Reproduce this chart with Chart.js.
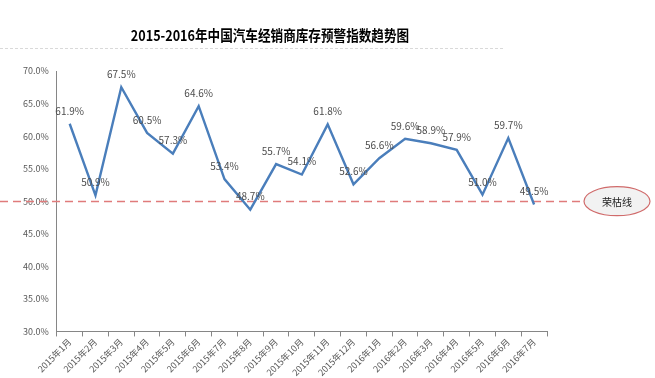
<!DOCTYPE html>
<html>
<head>
<meta charset="utf-8">
<script src="https://cdn.jsdelivr.net/npm/chart.js@4.4.0/dist/chart.umd.min.js"></script>
<style>
  html, body { margin: 0; padding: 0; background: #fff; }
  #wrap { width: 655px; height: 378px; position: relative; }
</style>
</head>
<body>
<div id="wrap"><canvas id="chart" width="655" height="378"></canvas></div>
<script>
"use strict";

var chartTitle = "2015-2016年中国汽车经销商库存预警指数趋势图";
var months = [
  "2015年1月", "2015年2月", "2015年3月", "2015年4月", "2015年5月", "2015年6月",
  "2015年7月", "2015年8月", "2015年9月", "2015年10月", "2015年11月", "2015年12月",
  "2016年1月", "2016年2月", "2016年3月", "2016年4月", "2016年5月", "2016年6月", "2016年7月"
];
var warningIndex = [
  61.9, 50.9, 67.5, 60.5, 57.3, 64.6, 53.4, 48.7, 55.7, 54.1,
  61.8, 52.6, 56.6, 59.6, 58.9, 57.9, 51.0, 59.7, 49.5
];
var boomBustValue = 50;
var boomBustLabel = "荣枯线";
var yMin = 30, yMax = 70, yStep = 5;

var fontFamily = "'Noto Sans CJK SC', 'Liberation Sans', sans-serif";
var tickColor = "#595959";
var axisColor = "#868686";

// title, dashed separator, boom-bust line with its ellipse label, and point labels
var decorations = {
  id: "decorations",
  beforeDatasetsDraw: function(chart) {
    var ctx = chart.ctx;
    var area = chart.chartArea;
    var y = chart.scales.y.getPixelForValue(boomBustValue);

    ctx.save();
    ctx.strokeStyle = "#d9d9d9";
    ctx.lineWidth = 1;
    ctx.setLineDash([3, 2]);
    ctx.beginPath();
    ctx.moveTo(0, 48.5);
    ctx.lineTo(505, 48.5);
    ctx.stroke();

    ctx.strokeStyle = "#e07b7b";
    ctx.lineWidth = 1.3;
    ctx.setLineDash([8, 5]);
    ctx.beginPath();
    ctx.moveTo(0, Math.round(y) + 0.5);
    ctx.lineTo(area.right + 37, Math.round(y) + 0.5);
    ctx.stroke();
    ctx.restore();
  },
  afterDatasetsDraw: function(chart) {
    var ctx = chart.ctx;
    var area = chart.chartArea;
    var y = chart.scales.y.getPixelForValue(boomBustValue);

    ctx.save();
    ctx.fillStyle = "#000";
    ctx.font = "bold 15px " + fontFamily;
    ctx.textAlign = "center";
    ctx.textBaseline = "middle";
    ctx.save();
    ctx.translate(270, 35);
    ctx.scale(0.84, 1);
    ctx.fillText(chartTitle, 0, 0);
    ctx.restore();

    var cx = area.right + 70;
    ctx.beginPath();
    ctx.ellipse(cx, y, 33, 14.5, 0, 0, Math.PI * 2);
    ctx.fillStyle = "#f2f2f2";
    ctx.fill();
    ctx.strokeStyle = "#d06b6b";
    ctx.lineWidth = 1.2;
    ctx.stroke();
    ctx.fillStyle = "#222";
    ctx.font = "10px " + fontFamily;
    ctx.fillText(boomBustLabel, cx, y + 1);

    var meta = chart.getDatasetMeta(0);
    ctx.font = "10px " + fontFamily;
    ctx.fillStyle = "#4d4d4d";
    meta.data.forEach(function(pt, i) {
      ctx.fillText(warningIndex[i].toFixed(1) + "%", pt.x, pt.y - 13);
    });
    ctx.restore();
  }
};

new Chart(document.getElementById("chart"), {
  type: "line",
  data: {
    labels: months,
    datasets: [{
      data: warningIndex,
      borderColor: "#4a7ebb",
      borderWidth: 2.4,
      pointRadius: 0,
      tension: 0,
      fill: false
    }]
  },
  plugins: [decorations],
  options: {
    responsive: false,
    animation: false,
    layout: { padding: { top: 71, right: 108, left: 15, bottom: 0 } },
    plugins: {
      legend: { display: false },
      tooltip: { enabled: false },
      title: { display: false }
    },
    scales: {
      x: {
        offset: true,
        grid: {
          display: true,
          drawOnChartArea: false,
          drawTicks: true,
          tickLength: 5,
          color: axisColor,
          offset: true
        },
        border: { color: axisColor, width: 1 },
        ticks: {
          autoSkip: false,
          maxRotation: 45,
          minRotation: 45,
          padding: 0,
          color: tickColor,
          font: { size: 9, family: fontFamily }
        }
      },
      y: {
        min: yMin,
        max: yMax,
        grid: { display: false, drawTicks: false },
        border: { color: axisColor, width: 1 },
        ticks: {
          stepSize: yStep,
          padding: 8,
          color: tickColor,
          font: { size: 9, family: fontFamily },
          callback: function(v) { return v.toFixed(1) + "%"; }
        }
      }
    }
  }
});
</script>
</body>
</html>
